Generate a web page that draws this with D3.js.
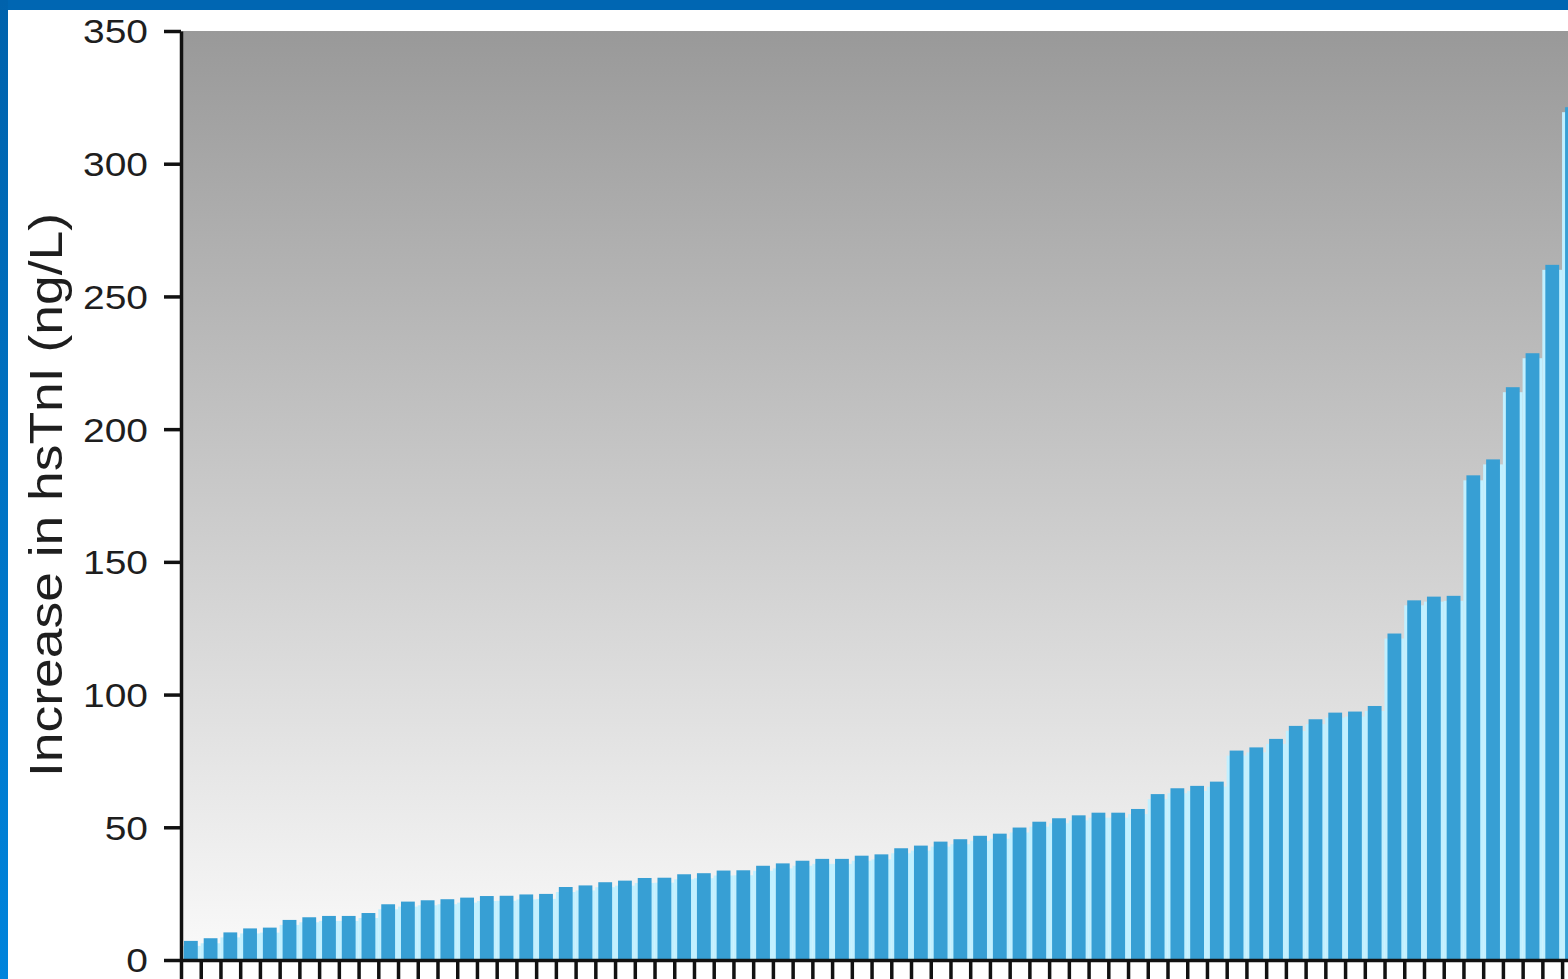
<!DOCTYPE html>
<html>
<head>
<meta charset="utf-8">
<script src="https://cdn.jsdelivr.net/npm/d3@7"></script>
<style>
  body { margin: 0; background: #fff; }
  svg { display: block; }
  text { font-family: "Liberation Sans", Arial, sans-serif; fill: #1e1e1e; }
</style>
</head>
<body>
<div id="chart"></div>
<script>
//hsTnI increase per patient, sorted ascending
var increases = [7.2, 8.2, 10.4, 11.9, 12.2, 15.1, 16.1, 16.6, 16.6, 17.7,
  21.0, 22.0, 22.5, 22.9, 23.5, 24.1, 24.2, 24.7, 24.9, 27.5,
  28.1, 29.3, 29.9, 30.9, 31.0, 32.3, 32.7, 33.7, 33.8, 35.5,
  36.4, 37.4, 38.1, 38.1, 39.3, 39.8, 42.1, 43.1, 44.6, 45.5,
  46.8, 47.6, 49.9, 52.1, 53.4, 54.5, 55.5, 55.5, 56.9, 62.5,
  64.7, 65.6, 67.2, 78.9, 80.1, 83.3, 88.2, 90.7, 93.2, 93.6,
  95.7, 123.0, 135.5, 136.9, 137.2, 182.6, 188.6, 215.8, 228.6, 261.9,
  321.3];
var patients = d3.range(increases.length);
var yTicks = [0, 50, 100, 150, 200, 250, 300, 350];
var yTitle = 'Increase in hsTnI (ng/L)';

//layout
var svg_size = {width: 1568, height: 979};
var plot = {left: 181, top: 31, bottom: 960, step: 19.73};

var svg = d3.select('#chart').append('svg')
  .attr('width', svg_size.width)
  .attr('height', svg_size.height);

var defs = svg.append('defs');
var bg = defs.append('linearGradient').attr('id', 'bg')
  .attr('x1', 0).attr('y1', 0).attr('x2', 0).attr('y2', 1);
bg.append('stop').attr('offset', '0%').attr('stop-color', '#999999');
bg.append('stop').attr('offset', '100%').attr('stop-color', '#fafafa');

var edge = defs.append('linearGradient').attr('id', 'edge')
  .attr('x1', 0).attr('y1', 0).attr('x2', 0).attr('y2', 1);
edge.append('stop').attr('offset', '0%').attr('stop-color', '#0062ac');
edge.append('stop').attr('offset', '100%').attr('stop-color', '#0084dc');

// the bar row runs past the right edge, last bars get cut off
var xRight = plot.left + plot.step * patients.length;
var x = d3.scaleBand()
  .domain(patients)
  .range([plot.left, xRight])
  .paddingInner(0.3)
  .paddingOuter(0.15);
var xTick = d3.scaleLinear().domain([0, patients.length]).range([plot.left, xRight]);
var y = d3.scaleLinear().domain([0, 350]).range([plot.bottom, plot.top]);

svg.append('rect')
  .attr('x', plot.left).attr('y', plot.top)
  .attr('width', svg_size.width - plot.left)
  .attr('height', plot.bottom - plot.top)
  .attr('fill', 'url(#bg)');

//pale glow along the bar sides
svg.append('g').selectAll('rect')
  .data(increases)
  .enter()
  .append('rect')
  .attr('x', function(d, i){ return x(i) - 3; })
  .attr('width', x.bandwidth() + 6)
  .attr('y', function(d){ return y(d) + 5; })
  .attr('height', function(d){ return y(0) - y(d) - 5; })
  .attr('fill', '#c2f0ff');

svg.append('g').selectAll('rect')
  .data(increases)
  .enter()
  .append('rect')
  .attr('x', function(d, i){ return x(i); })
  .attr('width', x.bandwidth())
  .attr('y', function(d){ return y(d); })
  .attr('height', function(d){ return y(0) - y(d); })
  .attr('fill', '#379fd4');

//axes
var yAxis = svg.append('g')
  .attr('transform', 'translate(' + plot.left + ',0)')
  .call(d3.axisLeft(y).tickValues(yTicks).tickSize(17).tickPadding(0).tickSizeOuter(0));
yAxis.selectAll('text')
  .attr('x', 0)
  .attr('dy', '0.36em')
  .attr('font-size', 33)
  .attr('text-anchor', 'end')
  .attr('transform', 'translate(-33,0) scale(1.18,1)');

var xAxis = svg.append('g')
  .attr('transform', 'translate(0,' + plot.bottom + ')')
  .call(d3.axisBottom(xTick).tickValues(d3.range(patients.length + 1))
    .tickFormat('').tickSize(19).tickSizeOuter(0));

svg.selectAll('.domain').attr('stroke', '#111').attr('stroke-width', 3.5);
svg.selectAll('.tick line').attr('stroke', '#111').attr('stroke-width', 3.5);
svg.selectAll('.tick text').attr('fill', '#1e1e1e').style('font-family', '"Liberation Sans", Arial, sans-serif');

svg.append('text')
  .attr('transform', 'translate(62,495) rotate(-90)')
  .attr('text-anchor', 'middle')
  .attr('font-size', 47)
  .attr('textLength', 564)
  .attr('lengthAdjust', 'spacingAndGlyphs')
  .text(yTitle);

//blue frame on top and left
svg.append('rect').attr('x', 0).attr('y', 0)
  .attr('width', svg_size.width).attr('height', 10)
  .attr('fill', '#0066b2');
svg.append('rect').attr('x', 0).attr('y', 0)
  .attr('width', 8).attr('height', svg_size.height)
  .attr('fill', 'url(#edge)');
</script>
</body>
</html>
